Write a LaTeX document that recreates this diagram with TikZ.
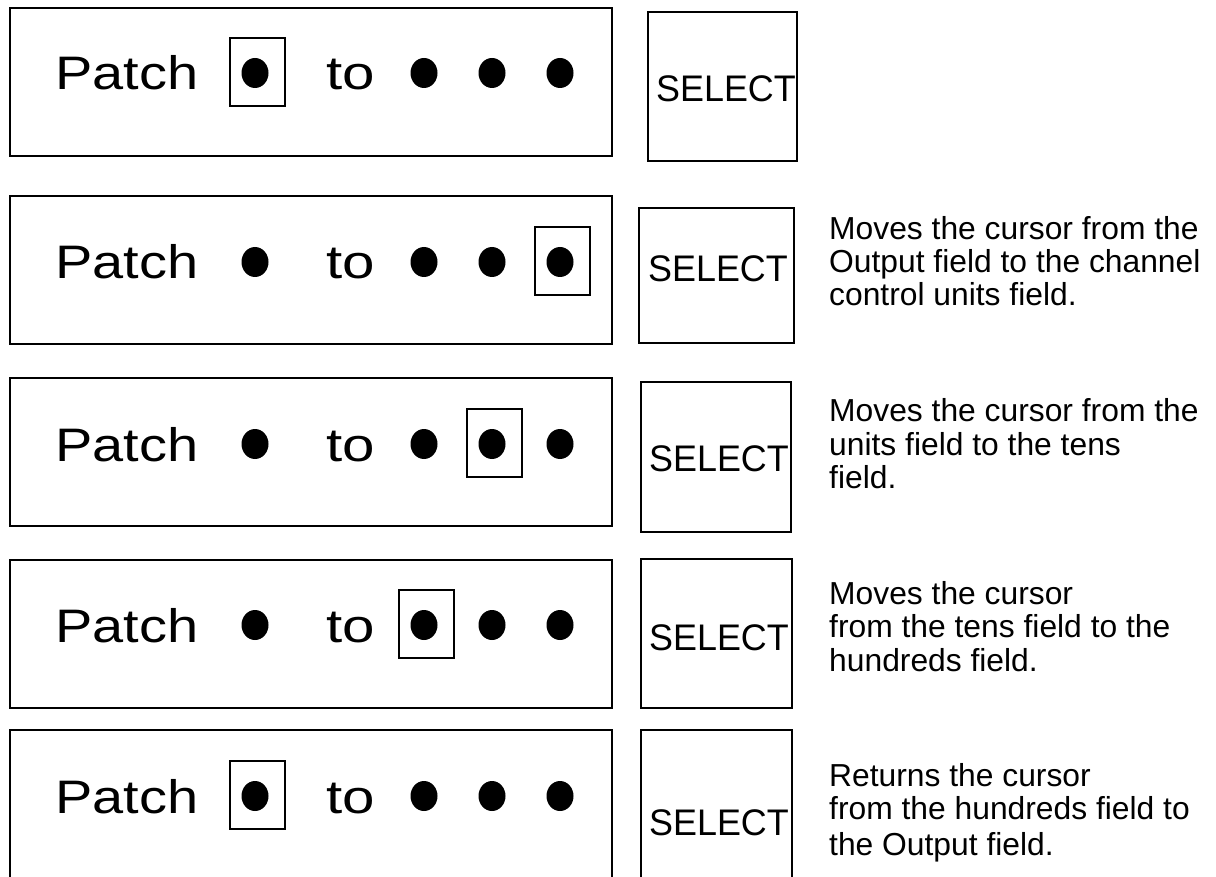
\documentclass[tikz,border=0pt]{standalone}
\usepackage{fontspec}
\setmainfont{Liberation Sans}
\usetikzlibrary{shapes.geometric}
\begin{document}
\begin{tikzpicture}[x=1pt,y=-1pt,
  panel/.style={draw, line width=2.4pt, minimum width=602pt, minimum height=148pt, inner sep=0pt},
  selkey/.style={draw, line width=2.4pt, inner sep=0pt},
  cursor/.style={draw, line width=2pt, minimum width=55pt, minimum height=68pt, inner sep=0pt},
  led/.style={ellipse, fill=black, minimum width=27pt, minimum height=30pt, inner sep=0pt},
  lcd/.style={anchor=base west, inner sep=0pt, font=\fontsize{47}{47}\selectfont},
  keytext/.style={anchor=base west, inner sep=0pt, font=\fontsize{37}{37}\selectfont},
  note/.style={anchor=base west, inner sep=0pt, font=\fontsize{31.8}{32}\selectfont}]
\useasboundingbox (0,0) rectangle (1216,877);
\clip (0,0) rectangle (1216,877);

% one display panel and its SELECT key per row:
% row / panel top / text baseline / key left,top,right,bottom / key text x,baseline / cursor x
\foreach \r/\top/\base/\kl/\kt/\kr/\kb/\tx/\ty/\cx in {
  1/8/90/648/12/797/161/656/102/255,
  2/196/279/639/208/794/343/648/282/560,
  3/378/461/641/382/791/532/649/471/492,
  4/560/642/641/559/792/708/649/650/424,
  5/730/813/641/730/792/880/649/835/255}{
  \node[panel] (panel\r) at (311,{\top+74}) {};
  \node[lcd] (patch\r) at (55,\base) {\scalebox{1.19}[1]{Patch}};
  \node[lcd] (to\r) at (326,\base) {\scalebox{1.24}[1]{to}};
  \node[led] (out\r) at (255,{\base-17}) {};
  \node[led] (hun\r) at (424,{\base-17}) {};
  \node[led] (ten\r) at (492,{\base-17}) {};
  \node[led] (uni\r) at (560,{\base-17}) {};
  \node[cursor] (cur\r) at ({\cx+2},{\base-18}) {};
  \node[selkey, minimum width={\kr-\kl}, minimum height={\kb-\kt}] (key\r) at ({(\kl+\kr)/2},{(\kt+\kb)/2}) {};
  \node[keytext] (sel\r) at (\tx,\ty) {\scalebox{0.97}[1]{SELECT}};
}

% explanations beside the keys
\node[note] (n2a) at (829,240) {Moves the cursor from the};
\node[note] (n2b) at (829,273) {Output field to the channel};
\node[note] (n2c) at (829,306) {control units field.};

\node[note] (n3a) at (829,421) {Moves the cursor from the};
\node[note] (n3b) at (829,455) {units field to the tens};
\node[note] (n3c) at (829,488) {field.};

\node[note] (n4a) at (829,604) {Moves the cursor};
\node[note] (n4b) at (829,637) {from the tens field to the};
\node[note] (n4c) at (829,671) {hundreds field.};

\node[note] (n5a) at (829,786) {Returns the cursor};
\node[note] (n5b) at (829,819) {from the hundreds field to};
\node[note] (n5c) at (829,855) {the Output field.};
\end{tikzpicture}
\end{document}
